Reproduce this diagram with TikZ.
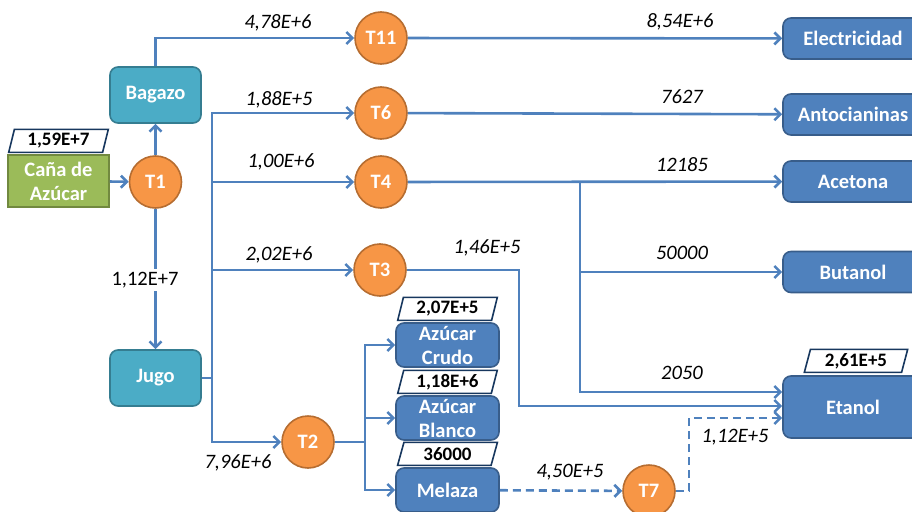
\documentclass[tikz,border=0pt]{standalone}
\usepackage{fontspec}
\setmainfont{Carlito}
\usetikzlibrary{arrows.meta, positioning, shapes.geometric}
\definecolor{flowblue}{HTML}{4F81BD}
\definecolor{prodline}{HTML}{385D8A}
\definecolor{procfill}{HTML}{F79646}
\definecolor{procline}{HTML}{B66D31}
\definecolor{interfill}{HTML}{4BACC6}
\definecolor{interline}{HTML}{357D91}
\definecolor{feedfill}{HTML}{9BBB59}
\definecolor{feedline}{HTML}{71893F}
\definecolor{tagline}{HTML}{17375E}
\tikzset{
	barb/.tip={Straight Barb[length=6pt, width=12pt]},
	flow/.style={draw=flowblue, line width=2.6pt, -barb},
	link/.style={draw=flowblue, line width=2.6pt},
	dashflow/.style={dash pattern=on 8pt off 5pt},
	% boxes
	boxtext/.style={text=white, font=\fontsize{20.5}{24}\selectfont\bfseries, align=center, line width=1.6pt},
	proc/.style={circle, boxtext, fill=procfill, draw=procline, minimum size=52pt, inner sep=0pt},
	feed/.style={rectangle, boxtext, fill=feedfill, draw=feedline, minimum width=101pt, minimum height=52pt, inner sep=0pt},
	inter/.style={rectangle, rounded corners=8pt, boxtext, fill=interfill, draw=interline, minimum width=91pt, minimum height=56pt},
	prod/.style={rectangle, rounded corners=8pt, boxtext, fill=flowblue, draw=prodline, minimum width=140pt, minimum height=41pt},
	mid/.style={prod, minimum width=103pt, minimum height=44pt, inner sep=0pt},
	tag/.style={trapezium, trapezium left angle=75, trapezium right angle=105, trapezium stretches=true,
		draw=tagline, fill=white, line width=1.6pt, font=\fontsize{19}{22}\selectfont\bfseries,
		minimum width=100pt, minimum height=23pt, inner sep=0pt},
	qty/.style={font=\fontsize{20.5}{24}\selectfont\itshape, inner sep=1pt}
}
\begin{document}
\begin{tikzpicture}[x=1pt, y=-1pt]
	\useasboundingbox (0,0) rectangle (912,511);
	\clip (0,0) rectangle (912,511);

	% Raw material and first split
	\node[feed] (cana) at (58.5,181) {Caña de\\Azúcar};
	\node[tag, above=1pt of cana] (tcana) {1,59E+7};
	\node[proc] (t1) at (155.5,182) {T1};
	\node[inter] (bagazo) at (155.5,95) {Bagazo};
	\node[inter] (jugo) at (155.5,378) {Jugo};

	% Processes
	\node[proc] (t11) at (381,38) {T11};
	\node[proc] (t6) at (381,113) {T6};
	\node[proc] (t4) at (381,182) {T4};
	\node[proc] (t3) at (380,270) {T3};
	\node[proc] (t2) at (308,442) {T2};
	\node[proc] (t7) at (649,491) {T7};

	% Sugar products
	\node[mid] (crudo) at (447.5,345) {Azúcar\\Crudo};
	\node[tag, above=1pt of crudo] (tcrudo) {2,07E+5};
	\node[mid] (blanco) at (447.5,418) {Azúcar\\Blanco};
	\node[tag, above=1pt of blanco] (tblanco) {1,18E+6};
	\node[mid] (melaza) at (447.5,490) {Melaza};
	\node[tag, above=1pt of melaza] (tmelaza) {36000};

	% Final products
	\node[prod] (elec) at (853,38.5) {Electricidad};
	\node[prod] (anto) at (853,114.5) {Antocianinas};
	\node[prod] (acet) at (853,181.5) {Acetona};
	\node[prod] (buta) at (853,272) {Butanol};
	\node[prod, minimum height=62pt] (etanol) at (853,407) {Etanol};
	\node[tag, above=2pt of etanol, xshift=3pt, minimum width=104pt] (tetanol) {2,61E+5};

	\coordinate (jsplit) at (212,378);
	\coordinate (t2split) at (365,442);
	\coordinate (t4split) at (580,182);
	\coordinate (t3bend) at (519,406);
	\coordinate (t7bend) at (689,418);

	% Streams
	\draw[flow] (cana) -- (t1);
	\draw[flow] (t1) -- (bagazo);
	\draw[flow] (t1) -- (jugo);
	\draw[flow] (bagazo) |- (t11);
	\draw[flow] (t11) -- (elec);
	\draw[flow] (t6) -- (anto);
	\draw[flow] (t4) -- (acet);
	\draw[link] (jugo) -- (jsplit);
	\foreach \t in {t6, t4, t3, t2}{\draw[flow] (jsplit) |- (\t);}
	\draw[flow] (t4split) |- (buta);
	\draw[flow] (t4split) |- ([yshift=15pt]etanol.west);
	\draw[flow] (t3) -| (t3bend) -- (t3bend -| etanol.west);
	\draw[link] (t2) -- (t2split);
	\foreach \m in {crudo, blanco, melaza}{\draw[flow] (t2split) |- (\m);}
	\draw[flow, dashflow] (melaza) -- (t7);
	\draw[flow, dashflow] (t7) -| (t7bend) -- (t7bend -| etanol.west);

	% Flow rates
	\node[qty, font=\fontsize{20.5}{24}\selectfont, fill=white, inner sep=3pt] (q112e7) at (145,280) {1,12E+7};
	\node[qty] (q478) at (278,23) {4,78E+6};
	\node[qty] (q188) at (279,100) {1,88E+5};
	\node[qty] (q100) at (281,162) {1,00E+6};
	\node[qty] (q202) at (279,255) {2,02E+6};
	\node[qty] (q796) at (238,463) {7,96E+6};
	\node[qty] (q854) at (680,22) {8,54E+6};
	\node[qty] (q7627) at (682,97) {7627};
	\node[qty] (q12185) at (682,165) {12185};
	\node[qty] (q146) at (487,248) {1,46E+5};
	\node[qty] (q50000) at (682,253) {50000};
	\node[qty] (q2050) at (682,373) {2050};
	\node[qty] (q112e5) at (735,437) {1,12E+5};
	\node[qty] (q450) at (570,472) {4,50E+5};
\end{tikzpicture}
\end{document}
